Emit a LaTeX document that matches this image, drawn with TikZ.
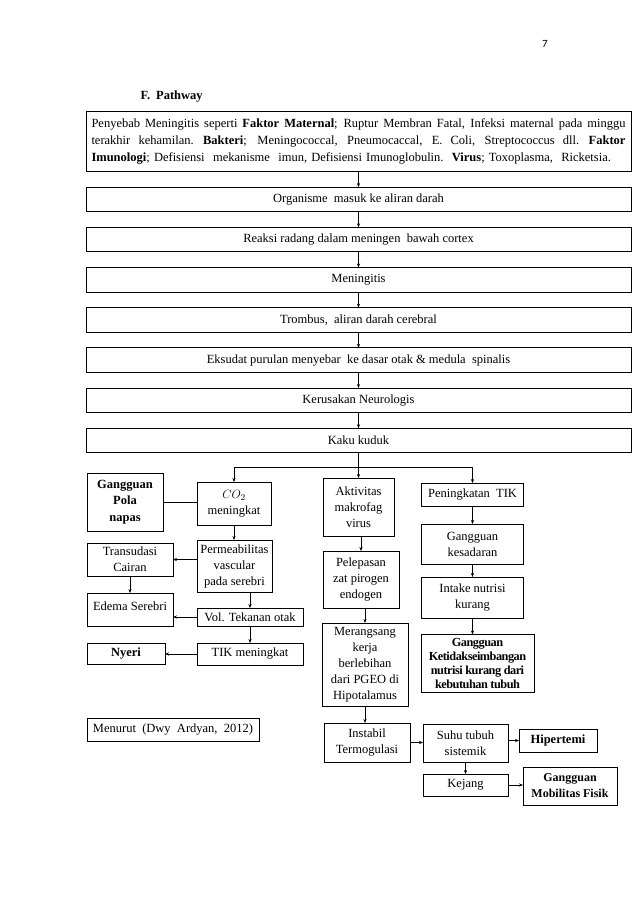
\documentclass[tikz,border=0pt]{standalone}
\usepackage{fontspec}
\setmainfont{Liberation Serif}
\newfontfamily\pagefont{Carlito}
\newfontfamily\tightbold[LetterSpace=-4]{Liberation Serif Bold}
\usetikzlibrary{arrows.meta}
\tikzset{
  bx/.style={draw, line width=0.9pt, inner sep=0pt, outer sep=0pt, align=center, font=\fontsize{12.5}{16}\selectfont},
  bbx/.style={bx, font=\fontsize{12.5}{16.5}\selectfont\bfseries},
  arr/.style={-{Stealth[length=4pt,width=3.2pt]}, line width=0.7pt},
  ln/.style={line width=0.7pt}
}
\newcommand{\justline}[1]{\leavevmode\hbox to 534pt{\spaceskip=3.2pt plus 30pt minus 1pt\xspaceskip=4.5pt plus 30pt minus 1pt #1}}
\begin{document}
\begin{tikzpicture}[x=1pt,y=-1pt]
\useasboundingbox (0,0) rectangle (638,903);
\fill[white] (0,0) rectangle (638,903);

\node[font=\pagefont\fontsize{11}{13}\selectfont] (pg) at (545,44) {7};
\node[anchor=west, font=\fontsize{12.5}{14}\selectfont\bfseries] (title) at (137,97) {F.\hspace{6pt}Pathway};

% top cause box
\node[bx, font=\fontsize{12.5}{17}\selectfont, minimum width=545pt, minimum height=60pt, text width=534pt, align=left] (top) at (358.5,141) {%
\justline{Penyebab Meningitis seperti \textbf{Faktor Maternal}; Ruptur Membran Fatal, Infeksi maternal pada minggu}\\
\justline{terakhir kehamilan. \textbf{Bakteri}; Meningococcal, Pneumocaccal, E. Coli, Streptococcus dll. \textbf{Faktor}}\\
\textbf{Imunologi}; Defisiensi\ \ mekanisme\ \ imun, Defisiensi Imunoglobulin.\ \ \textbf{Virus}; Toxoplasma,\ \ Ricketsia.};

% main chain
\node[bx, minimum width=545pt, minimum height=24.5pt] (org) at (358.5,199.3) {Organisme\ \ masuk\ ke aliran\ darah};
\node[bx, minimum width=545pt, minimum height=24.5pt] (reaksi) at (358.5,239.5) {Reaksi radang dalam meningen\ \ bawah cortex};
\node[bx, minimum width=545pt, minimum height=24.5pt] (mening) at (358.5,279.7) {Meningitis};
\node[bx, minimum width=545pt, minimum height=24.5pt] (trombus) at (358.5,319.9) {Trombus,\ \ aliran\ darah cerebral};
\node[bx, minimum width=545pt, minimum height=24.5pt] (eksudat) at (358.5,360.1) {Eksudat\ purulan\ menyebar\ \ ke dasar otak \& medula\ \ spinalis};
\node[bx, minimum width=545pt, minimum height=24.5pt] (kerusakan) at (358.5,400.3) {Kerusakan Neurologis};
\node[bx, minimum width=545pt, minimum height=24.5pt] (kaku) at (358.5,440.5) {Kaku kuduk};

\draw[arr] (top.south) -- (org.north);
\draw[arr] (org.south) -- (reaksi.north);
\draw[arr] (reaksi.south) -- (mening.north);
\draw[arr] (mening.south) -- (trombus.north);
\draw[arr] (trombus.south) -- (eksudat.north);
\draw[arr] (eksudat.south) -- (kerusakan.north);
\draw[arr] (kerusakan.south) -- (kaku.north);

% left column
\node[bbx, minimum width=76pt, minimum height=58pt] (gpn) at (125,502) {Gangguan\\Pola\\napas};
\node[bx, minimum width=74pt, minimum height=43pt] (co2) at (234,503.5) {$CO_2$\\meningkat};
\node[bx, minimum width=75pt, minimum height=52pt] (perm) at (234.5,566) {Permeabilitas\\vascular\\pada serebri};
\node[bx, minimum width=86pt, minimum height=33pt] (trans) at (130,559.5) {Transudasi\\Cairan};
\node[bx, minimum width=86pt, minimum height=33pt] (edema) at (130,609.5) {\raisebox{6pt}{Edema Serebri}};
\node[bx, minimum width=106pt, minimum height=18pt] (vol) at (250,617) {Vol. Tekanan otak};
\node[bx, minimum width=106pt, minimum height=22pt] (tik) at (250,654) {TIK meningkat};
\node[bbx, minimum width=78pt, minimum height=21pt] (nyeri) at (126,653.5) {Nyeri};

% middle column
\node[bx, minimum width=71pt, minimum height=58pt] (akt) at (358.5,507) {Aktivitas\\makrofag\\virus};
\node[bx, minimum width=76pt, minimum height=57pt] (pel) at (361,579.5) {Pelepasan\\zat pirogen\\endogen};
\node[bx, minimum width=86pt, minimum height=83pt] (mer) at (365,664.5) {Merangsang\\kerja\\berlebihan\\dari PGEO di\\Hipotalamus};
\node[bx, minimum width=86pt, minimum height=39pt] (ins) at (367,742.5) {Instabil\\Termogulasi};
\node[bx, minimum width=85pt, minimum height=38pt] (suhu) at (465.5,743) {Suhu tubuh\\sistemik};
\node[bbx, minimum width=78pt, minimum height=23pt] (hip) at (558,740.5) {Hipertemi};
\node[bx, minimum width=85pt, minimum height=22pt] (kej) at (465.5,785) {Kejang};
\node[bbx, font=\fontsize{12}{16}\selectfont\bfseries, minimum width=94pt, minimum height=38pt] (mob) at (570,786) {Gangguan\\Mobilitas Fisik};

% right column
\node[bx, minimum width=102pt, minimum height=23pt] (pen) at (472.5,494.5) {Peningkatan\ \ TIK};
\node[bx, minimum width=102pt, minimum height=40pt] (gk) at (472.5,544) {Gangguan\\kesadaran};
\node[bx, minimum width=102pt, minimum height=41pt] (intake) at (472.5,597.5) {Intake nutrisi\\kurang};
\node[bx, font=\tightbold\fontsize{12.3}{14.3}\selectfont, minimum width=113pt, minimum height=58pt] (gkeb) at (477.5,663.5) {Gangguan\\Ketidakseimbangan\\nutrisi kurang dari\\kebutuhan tubuh};

\node[bx, minimum width=172pt, minimum height=23pt] (menurut) at (173,729.5) {Menurut\ \ (Dwy\ \ Ardyan,\ \ 2012)};

% branches from Kaku kuduk
\coordinate (br) at (358.5,467);
\draw[ln] (kaku.south) -- (br);
\draw[ln] (co2.north |- br) -- (pen.north |- br);
\draw[arr] (co2.north |- br) -- (co2.north);
\draw[arr] (br) -- (akt.north);
\draw[arr] (pen.north |- br) -- (pen.north);

% left connections
\draw[ln] (gpn.east) -- (gpn.east -| co2.west);
\draw[arr] (co2.south) -- (co2.south |- perm.north);
\draw[arr] (trans.east -| perm.west) -- (trans.east);
\draw[arr] (trans.south) -- (edema.north);
\draw[arr] (vol.north |- perm.south) -- (vol.north);
\draw[arr] (vol.west) -- (vol.west -| edema.east);
\draw[arr] (vol.south) -- (tik.north);
\draw[arr] (tik.west) -- (tik.west -| nyeri.east);

% middle connections
\draw[arr] (pel.north |- akt.south) -- (pel.north);
\draw[arr] (mer.north |- pel.south) -- (mer.north);
\draw[arr] (mer.south) -- (mer.south |- ins.north);
\draw[arr] (ins.east) -- (ins.east -| suhu.west);
\draw[arr] (hip.west -| suhu.east) -- (hip.west);
\draw[arr] (suhu.south) -- (kej.north);
\draw[arr] (kej.east) -- (kej.east -| mob.west);

% right connections
\draw[arr] (pen.south) -- (gk.north);
\draw[arr] (gk.south) -- (intake.north);
\draw[arr] (intake.south) -- (intake.south |- gkeb.north);
\end{tikzpicture}
\end{document}
